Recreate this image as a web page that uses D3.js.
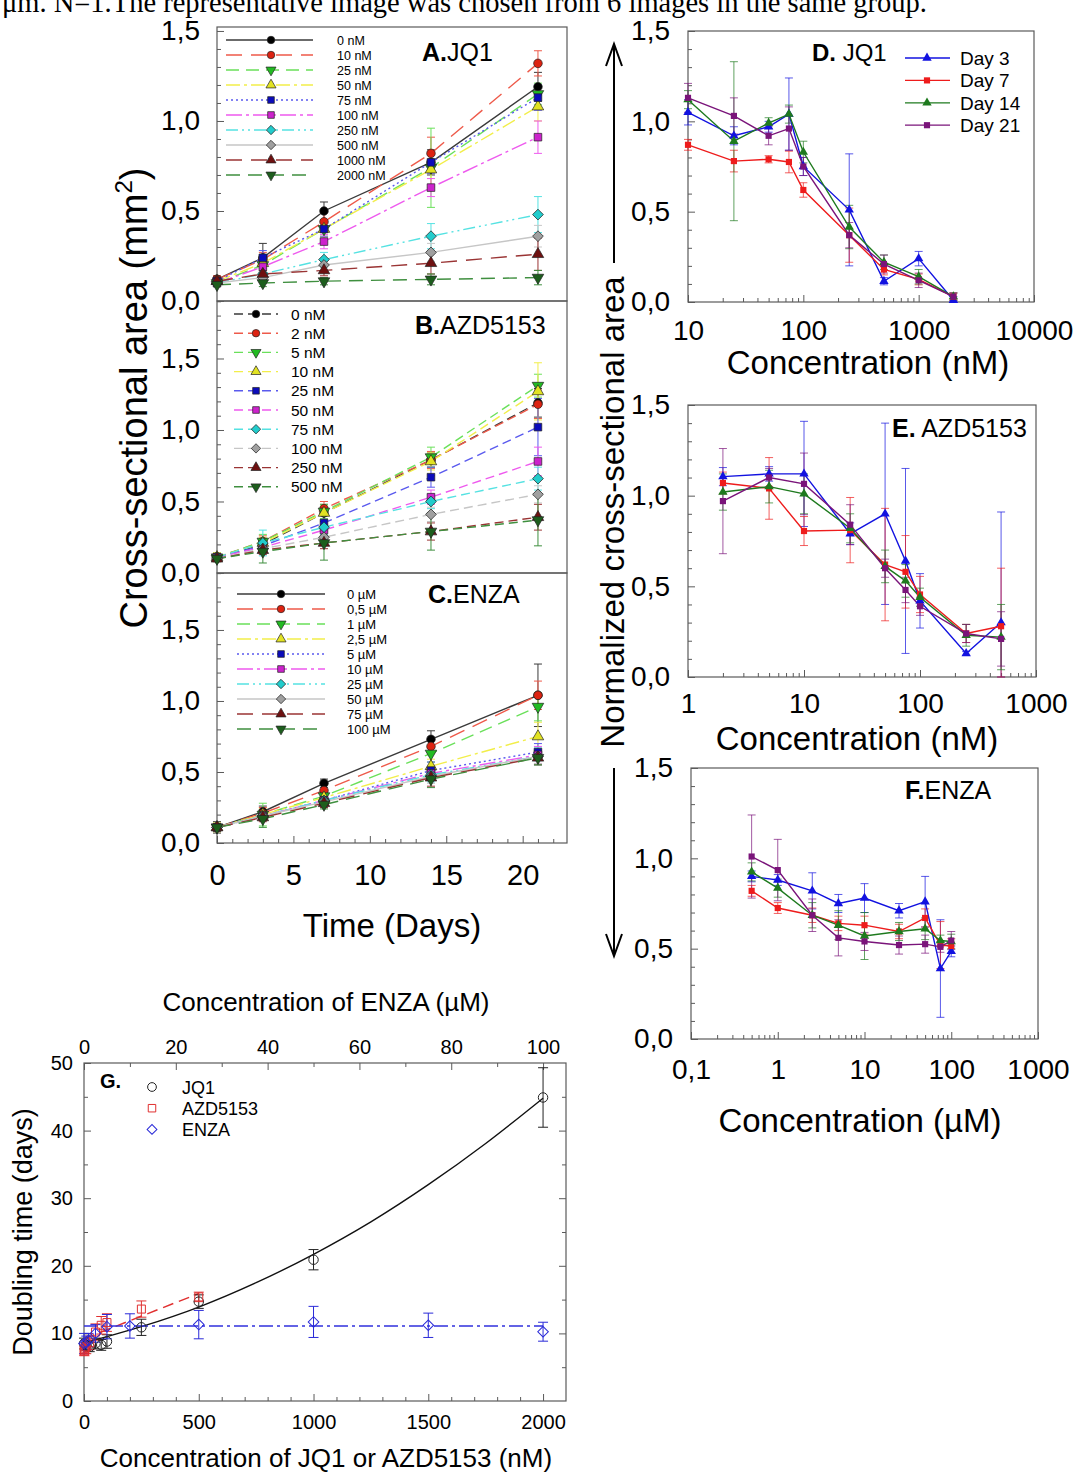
<!DOCTYPE html>
<html>
<head>
<meta charset="utf-8">
<script src="https://cdn.jsdelivr.net/npm/d3@7"></script>
<style>
  body { margin: 0; background: #fff; }
  svg { display: block; }
</style>
</head>
<body>
<svg id="fig" width="1073" height="1475"></svg>
<script>
// ---------- Growth curves (A–C): sampling days ----------
const days = [0, 3, 7, 14, 21];

// A. JQ1 – cross-sectional area (mm²) per dose
const jq1Doses = ["0 nM", "10 nM", "25 nM", "50 nM", "75 nM", "100 nM", "250 nM", "500 nM", "1000 nM", "2000 nM"];
const jq1Area = [
  [0.12, 0.24, 0.50, 0.77, 1.19],
  [0.12, 0.23, 0.44, 0.82, 1.32],
  [0.10, 0.20, 0.40, 0.74, 1.15],
  [0.11, 0.21, 0.40, 0.73, 1.08],
  [0.11, 0.24, 0.40, 0.77, 1.13],
  [0.10, 0.19, 0.33, 0.63, 0.91],
  [0.10, 0.15, 0.23, 0.36, 0.48],
  [0.10, 0.13, 0.20, 0.27, 0.36],
  [0.11, 0.15, 0.17, 0.21, 0.26],
  [0.09, 0.10, 0.11, 0.12, 0.13]
];
const jq1Err = [
  [0.02, 0.08, 0.05, 0.07, 0.08],
  [0.02, 0.04, 0.05, 0.09, 0.07],
  [0.02, 0.04, 0.05, 0.22, 0.06],
  [0.02, 0.03, 0.04, 0.10, 0.08],
  [0.02, 0.04, 0.04, 0.06, 0.07],
  [0.02, 0.03, 0.04, 0.05, 0.09],
  [0.02, 0.03, 0.04, 0.07, 0.10],
  [0.02, 0.02, 0.03, 0.05, 0.06],
  [0.02, 0.02, 0.03, 0.06, 0.09],
  [0.01, 0.02, 0.02, 0.03, 0.04]
];

// B. AZD5153
const azdDoses = ["0 nM", "2 nM", "5 nM", "10 nM", "25 nM", "50 nM", "75 nM", "100 nM", "250 nM", "500 nM"];
const azdArea = [
  [0.11, 0.20, 0.42, 0.79, 1.19],
  [0.11, 0.22, 0.45, 0.79, 1.18],
  [0.11, 0.22, 0.43, 0.81, 1.31],
  [0.11, 0.21, 0.42, 0.78, 1.27],
  [0.11, 0.19, 0.35, 0.67, 1.02],
  [0.11, 0.18, 0.30, 0.53, 0.78],
  [0.11, 0.21, 0.32, 0.50, 0.66],
  [0.10, 0.17, 0.25, 0.41, 0.55],
  [0.10, 0.16, 0.21, 0.29, 0.39],
  [0.10, 0.15, 0.21, 0.29, 0.37]
];
const azdErr = [
  [0.03, 0.04, 0.06, 0.05, 0.10],
  [0.03, 0.04, 0.05, 0.06, 0.10],
  [0.03, 0.05, 0.05, 0.07, 0.08],
  [0.03, 0.04, 0.05, 0.06, 0.20],
  [0.02, 0.04, 0.05, 0.07, 0.20],
  [0.02, 0.03, 0.04, 0.05, 0.10],
  [0.02, 0.09, 0.05, 0.05, 0.08],
  [0.02, 0.03, 0.04, 0.05, 0.06],
  [0.02, 0.03, 0.04, 0.06, 0.09],
  [0.02, 0.08, 0.12, 0.13, 0.18]
];

// C. ENZA
const enzaDoses = ["0 µM", "0,5 µM", "1 µM", "2,5 µM", "5 µM", "10 µM", "25 µM", "50 µM", "75 µM", "100 µM"];
const enzaArea = [
  [0.11, 0.22, 0.42, 0.73, 1.04],
  [0.11, 0.21, 0.37, 0.68, 1.04],
  [0.11, 0.20, 0.33, 0.63, 0.96],
  [0.11, 0.20, 0.32, 0.54, 0.75],
  [0.11, 0.19, 0.30, 0.51, 0.64],
  [0.11, 0.19, 0.30, 0.49, 0.62],
  [0.11, 0.19, 0.30, 0.48, 0.61],
  [0.11, 0.19, 0.29, 0.47, 0.61],
  [0.11, 0.18, 0.28, 0.46, 0.60],
  [0.11, 0.17, 0.27, 0.45, 0.60]
];
const enzaErr = [
  [0.04, 0.04, 0.03, 0.06, 0.22],
  [0.03, 0.04, 0.04, 0.05, 0.10],
  [0.03, 0.08, 0.04, 0.06, 0.10],
  [0.03, 0.04, 0.04, 0.05, 0.10],
  [0.02, 0.03, 0.04, 0.06, 0.06],
  [0.02, 0.03, 0.03, 0.05, 0.06],
  [0.02, 0.03, 0.03, 0.05, 0.06],
  [0.02, 0.03, 0.03, 0.05, 0.05],
  [0.02, 0.03, 0.03, 0.06, 0.05],
  [0.02, 0.06, 0.03, 0.06, 0.05]
];

// ---------- Normalized dose–response (D–F) ----------
const dayLabels = ["Day 3", "Day 7", "Day 14", "Day 21"];

const jq1Conc = [10, 25, 50, 75, 100, 250, 500, 1000, 2000];
const jq1Norm = [
  [1.05, 0.92, 0.97, 1.04, 0.75, 0.51, 0.115, 0.24, 0.01],
  [0.87, 0.78, 0.79, 0.775, 0.62, 0.37, 0.18, 0.125, 0.03],
  [1.12, 0.89, 0.99, 1.04, 0.83, 0.415, 0.22, 0.14, 0.03],
  [1.13, 1.03, 0.92, 0.96, 0.75, 0.37, 0.21, 0.12, 0.03]
];
const jq1NormErr = [
  [0.07, 0.05, 0.03, 0.20, 0.05, 0.31, 0.02, 0.04, 0.02],
  [0.03, 0.06, 0.02, 0.06, 0.04, 0.15, 0.03, 0.03, 0.02],
  [0.05, 0.44, 0.03, 0.05, 0.06, 0.12, 0.04, 0.04, 0.02],
  [0.08, 0.10, 0.05, 0.12, 0.05, 0.07, 0.05, 0.04, 0.02]
];

const azdConc = [2, 5, 10, 25, 50, 75, 100, 250, 500];
const azdNorm = [
  [1.105, 1.12, 1.12, 0.79, 0.90, 0.64, 0.42, 0.13, 0.30],
  [1.07, 1.04, 0.805, 0.81, 0.62, 0.58, 0.455, 0.24, 0.28],
  [1.02, 1.05, 1.01, 0.82, 0.61, 0.53, 0.44, 0.23, 0.22],
  [0.97, 1.10, 1.065, 0.84, 0.60, 0.48, 0.39, 0.24, 0.21]
];
const azdNormErr = [
  [0.05, 0.04, 0.29, 0.06, 0.50, 0.51, 0.15, 0.01, 0.61],
  [0.06, 0.17, 0.08, 0.18, 0.31, 0.20, 0.10, 0.05, 0.32],
  [0.10, 0.09, 0.11, 0.08, 0.09, 0.09, 0.05, 0.06, 0.18],
  [0.29, 0.05, 0.17, 0.11, 0.05, 0.07, 0.05, 0.05, 0.15]
];

const enzaConc = [0.5, 1, 2.5, 5, 10, 25, 50, 75, 100];
const enzaNorm = [
  [0.90, 0.88, 0.82, 0.75, 0.78, 0.71, 0.76, 0.39, 0.485],
  [0.82, 0.725, 0.685, 0.64, 0.63, 0.595, 0.67, 0.52, 0.515],
  [0.925, 0.835, 0.685, 0.63, 0.57, 0.595, 0.61, 0.545, 0.54],
  [1.01, 0.935, 0.685, 0.56, 0.54, 0.52, 0.525, 0.51, 0.545]
];
const enzaNormErr = [
  [0.03, 0.03, 0.10, 0.05, 0.08, 0.04, 0.14, 0.27, 0.03],
  [0.03, 0.03, 0.04, 0.04, 0.05, 0.04, 0.05, 0.13, 0.04],
  [0.05, 0.05, 0.07, 0.08, 0.13, 0.05, 0.06, 0.03, 0.04],
  [0.23, 0.17, 0.09, 0.10, 0.05, 0.05, 0.05, 0.03, 0.05]
];

// ---------- G. Doubling time ----------
const dtJq1Conc = [0, 10, 25, 50, 75, 100, 250, 500, 1000, 2000];
const dtJq1 = [8.5, 8.2, 8.0, 8.5, 8.3, 8.8, 10.9, 14.7, 20.9, 44.9];
const dtJq1Err = [0.8, 0.7, 0.7, 0.8, 0.8, 1.0, 1.2, 1.0, 1.5, 4.4];
const dtAzdConc = [0, 2, 5, 10, 25, 50, 75, 100, 250, 500];
const dtAzd = [7.6, 7.4, 7.8, 8.0, 8.6, 10.2, 11.2, 11.6, 13.6, 15.4];
const dtAzdErr = [0.8, 0.7, 0.8, 1.0, 1.0, 1.2, 1.3, 1.3, 1.2, 0.7];
const dtEnzaConc = [0, 0.5, 1, 2.5, 5, 10, 25, 50, 75, 100];
const dtEnza = [8.5, 8.6, 9.0, 10.0, 11.0, 11.1, 11.3, 11.7, 11.2, 10.25];
const dtEnzaErr = [1.5, 1.0, 1.0, 1.3, 1.8, 1.8, 2.1, 2.3, 1.8, 1.4];
// fitted trend lines
const fitJq1Conc = [0, 250, 500, 750, 1000, 1250, 1500, 1750, 2000];
const fitJq1 = [8.6, 11.0, 13.9, 17.5, 21.7, 26.5, 32.0, 38.1, 44.8];
const fitAzdConc = [0, 500];
const fitAzd = [9.2, 15.9];
const fitEnzaConc = [0, 100];
const fitEnza = [11.1, 11.1];

// ---------- styles ----------
const FONT = '"Liberation Sans", Arial, Helvetica, sans-serif';
const lineColor = ["#3a3a3a", "#ee5a4a", "#6ae05a", "#f2ee4a", "#5a5aee", "#ee5aee", "#55e2e2", "#c6c6c6", "#9a3434", "#3f8f3f"];
const markFill  = ["#000000", "#dd2211", "#22bb22", "#e2e222", "#0b0bbb", "#cc22cc", "#22cccc", "#a0a0a0", "#6e1010", "#1d5e1d"];
const markShape = ["circle", "circle", "triDown", "triUp", "square", "square", "diamond", "diamond", "triUp", "triDown"];
const dashAC = [null, "16,9", "13,7", "14,4,3,4", "2,3", "16,4,3,4", "12,4,2,4,2,4", null, "16,9", "14,8"];
const dashB = Array(10).fill("9,5");
const dayColor = ["#1212e0", "#ee1c1c", "#1e7a1e", "#7a147a"];
const dayShape = ["triUp", "square", "triUp", "square"];
const frameColor = "#5a5a5a";

const svg = d3.select("#fig").attr("font-family", FONT);
const fmtComma = d => d3.format(".1f")(d).replace(".", ",");

function symbolPath(shape, size) {
  const t = { circle: d3.symbolCircle, triUp: d3.symbolTriangle, triDown: d3.symbolTriangle,
              square: d3.symbolSquare, diamond: d3.symbolSquare }[shape];
  return d3.symbol(t, size)();
}
function symbolRot(shape) { return shape === "triDown" ? 180 : shape === "diamond" ? 45 : 0; }
function drawMarker(g, x, y, shape, size, fill, stroke, sw) {
  g.append("path").attr("d", symbolPath(shape, size))
    .attr("transform", `translate(${x},${y}) rotate(${symbolRot(shape)})`)
    .attr("fill", fill).attr("stroke", stroke).attr("stroke-width", sw);
}
function drawErrBar(g, x, yLo, yHi, color, cap, sw) {
  g.append("line").attr("x1", x).attr("x2", x).attr("y1", yLo).attr("y2", yHi)
    .attr("stroke", color).attr("stroke-width", sw);
  [yLo, yHi].forEach(yy => g.append("line").attr("x1", x - cap).attr("x2", x + cap)
    .attr("y1", yy).attr("y2", yy).attr("stroke", color).attr("stroke-width", sw));
}
function styleAxis(sel, fs) {
  sel.attr("font-family", FONT).attr("font-size", fs);
  sel.select(".domain").remove();
  sel.selectAll("line").attr("stroke", frameColor).attr("stroke-width", 1);
  sel.selectAll("text").attr("fill", "#000");
}
function frame(x0, x1, yTop, yBot) {
  svg.append("rect").attr("x", x0).attr("y", yTop).attr("width", x1 - x0).attr("height", yBot - yTop)
    .attr("fill", "none").attr("stroke", frameColor).attr("stroke-width", 1.2);
}
function logMinors(lo, hi) {
  const out = [];
  for (let p = Math.round(Math.log10(lo)); p < Math.round(Math.log10(hi)); p++) {
    for (let k = 2; k <= 9; k++) out.push(+(k * Math.pow(10, p)).toPrecision(3));
  }
  return out;
}
function panelLabel(x, y, bold, rest, fs) {
  const t = svg.append("text").attr("x", x).attr("y", y).attr("font-size", fs);
  t.append("tspan").attr("font-weight", "bold").text(bold);
  t.append("tspan").text(rest);
}

// ---------- caption fragment at top ----------
svg.append("text").attr("x", 2).attr("y", 12)
  .attr("font-family", '"Liberation Serif", "Times New Roman", serif').attr("font-size", 28.5)
  .text("μm. N=1.The representative image was chosen from 6 images in the same group.");

// ---------- panels A–C ----------
const xDay = d3.scaleLinear().domain([0, 22.9]).range([217, 567]);

function growthPanel(cfg) {
  const y = d3.scaleLinear().domain([0, cfg.ymax]).range([cfg.yBot, cfg.yTop]);
  frame(217, 567, cfg.yTop, cfg.yBot);
  const minorY = d3.range(1, Math.floor(cfg.ymax * 10 + 1e-6) + 1).map(d => d / 10).filter(d => Math.abs(d * 2 - Math.round(d * 2)) > 1e-6);
  svg.append("g").attr("transform", "translate(217,0)")
    .call(d3.axisLeft(y).tickValues(minorY).tickSize(-4).tickFormat(""))
    .call(s => styleAxis(s, 10));
  svg.append("g").attr("transform", "translate(217,0)")
    .call(d3.axisLeft(y).tickValues([0, 0.5, 1.0, 1.5]).tickSize(-7).tickPadding(17).tickFormat(fmtComma))
    .call(s => styleAxis(s, 28));

  const g = svg.append("g");
  const line = d3.line().x(d => xDay(d[0])).y(d => y(d[1]));
  cfg.values.forEach((vals, i) => {
    vals.forEach((v, j) => drawErrBar(g, xDay(days[j]), y(v - cfg.errs[i][j]), y(v + cfg.errs[i][j]), lineColor[i], 4, 1));
  });
  cfg.values.forEach((vals, i) => {
    g.append("path").attr("d", line(vals.map((v, j) => [days[j], v])))
      .attr("fill", "none").attr("stroke", lineColor[i]).attr("stroke-width", 1.4)
      .attr("stroke-dasharray", cfg.dash[i]);
  });
  cfg.values.forEach((vals, i) => {
    vals.forEach((v, j) => drawMarker(g, xDay(days[j]), y(v), markShape[i], 58, markFill[i], "#222", 0.7));
  });

  // legend
  const L = cfg.legend;
  cfg.labels.forEach((lab, i) => {
    const yy = L.y0 + i * L.dy;
    g.append("line").attr("x1", L.x0).attr("x2", L.x1).attr("y1", yy).attr("y2", yy)
      .attr("stroke", lineColor[i]).attr("stroke-width", 1.4).attr("stroke-dasharray", cfg.dash[i]);
    drawMarker(g, L.xm, yy, markShape[i], 44, markFill[i], "#222", 0.7);
    g.append("text").attr("x", L.xt).attr("y", yy + L.fs * 0.36).attr("font-size", L.fs).text(lab);
  });
  panelLabel(cfg.lx, cfg.ly, cfg.lb, cfg.lr, 25);
  return y;
}

growthPanel({ yTop: 27, yBot: 301, ymax: 1.522, values: jq1Area, errs: jq1Err, labels: jq1Doses, dash: dashAC,
  legend: { x0: 226, x1: 313, xm: 271, xt: 337, y0: 40, dy: 15, fs: 12.5 },
  lx: 422, ly: 61, lb: "A.", lr: "JQ1" });
growthPanel({ yTop: 301, yBot: 573, ymax: 1.902, values: azdArea, errs: azdErr, labels: azdDoses, dash: dashB,
  legend: { x0: 234, x1: 278, xm: 256, xt: 291, y0: 314, dy: 19.2, fs: 15.5 },
  lx: 415, ly: 334, lb: "B.", lr: "AZD5153" });
growthPanel({ yTop: 573, yBot: 843, ymax: 1.901, values: enzaArea, errs: enzaErr, labels: enzaDoses, dash: dashAC,
  legend: { x0: 237, x1: 325, xm: 281, xt: 347, y0: 594, dy: 15, fs: 13 },
  lx: 428, ly: 603, lb: "C.", lr: "ENZA" });

svg.append("g").attr("transform", "translate(0,843)")
  .call(d3.axisBottom(xDay).tickValues(d3.range(1, 23).filter(d => d % 5)).tickSize(-4).tickFormat(""))
  .call(s => styleAxis(s, 10));
svg.append("g").attr("transform", "translate(0,843)")
  .call(d3.axisBottom(xDay).tickValues([0, 5, 10, 15, 20]).tickSize(-7).tickPadding(21).tickFormat(d3.format("d")))
  .call(s => styleAxis(s, 29));
svg.append("text").attr("x", 392).attr("y", 937).attr("text-anchor", "middle").attr("font-size", 33).text("Time (Days)");
{
  const t = svg.append("text").attr("transform", "translate(147,398) rotate(-90)")
    .attr("text-anchor", "middle").attr("font-size", 38);
  t.append("tspan").text("Cross-sectional area (mm");
  t.append("tspan").attr("font-size", 24).attr("dy", -15).text("2");
  t.append("tspan").attr("dy", 15).text(")");
}

// ---------- panels D–F ----------
function normPanel(cfg) {
  const x = d3.scaleLog().domain(cfg.dom).range([cfg.x0, cfg.x1]);
  const y = d3.scaleLinear().domain([0, 1.5]).range([cfg.yBot, cfg.yTop]);
  frame(cfg.x0, cfg.x1, cfg.yTop, cfg.yBot);
  svg.append("g").attr("transform", `translate(${cfg.x0},0)`)
    .call(d3.axisLeft(y).tickValues(d3.range(1, 15).filter(d => d % 5).map(d => d / 10)).tickSize(-4).tickFormat(""))
    .call(s => styleAxis(s, 10));
  svg.append("g").attr("transform", `translate(${cfg.x0},0)`)
    .call(d3.axisLeft(y).tickValues([0, 0.5, 1.0, 1.5]).tickSize(-7).tickPadding(18).tickFormat(fmtComma))
    .call(s => styleAxis(s, 28));
  svg.append("g").attr("transform", `translate(0,${cfg.yBot})`)
    .call(d3.axisBottom(x).tickValues(logMinors(cfg.dom[0], cfg.dom[1])).tickSize(-4).tickFormat(""))
    .call(s => styleAxis(s, 10));
  svg.append("g").attr("transform", `translate(0,${cfg.yBot})`)
    .call(d3.axisBottom(x).tickValues(cfg.majors).tickSize(-7).tickPadding(cfg.pad).tickFormat(cfg.fmt))
    .call(s => styleAxis(s, 28));
  svg.append("text").attr("x", cfg.tx).attr("y", cfg.ty).attr("text-anchor", "middle").attr("font-size", 33).text(cfg.title);

  const g = svg.append("g");
  const line = d3.line().x(d => x(d[0])).y(d => y(d[1]));
  cfg.values.forEach((vals, i) => vals.forEach((v, j) => {
    const e = cfg.errs[i][j];
    drawErrBar(g, x(cfg.conc[j]), y(Math.max(0, v - e)), y(v + e), dayColor[i], 4, 1);
  }));
  g.selectAll("line").attr("stroke-opacity", 0.7);
  cfg.values.forEach((vals, i) => {
    g.append("path").attr("d", line(vals.map((v, j) => [cfg.conc[j], v])))
      .attr("fill", "none").attr("stroke", dayColor[i]).attr("stroke-width", 1.4);
  });
  cfg.values.forEach((vals, i) => vals.forEach((v, j) =>
    drawMarker(g, x(cfg.conc[j]), y(v), dayShape[i], 38, dayColor[i], "none", 0)));
  panelLabel(cfg.lx, cfg.ly, cfg.lb, cfg.lr, cfg.lfs);
}

normPanel({ dom: [10, 10000], x0: 688, x1: 1034, yTop: 31, yBot: 302, conc: jq1Conc, values: jq1Norm, errs: jq1NormErr,
  majors: [10, 100, 1000, 10000], fmt: d3.format("d"), pad: 18,
  title: "Concentration (nM)", tx: 868, ty: 374, lx: 812, ly: 61, lb: "D.", lr: " JQ1", lfs: 24 });
normPanel({ dom: [1, 1000], x0: 688, x1: 1036, yTop: 405, yBot: 677, conc: azdConc, values: azdNorm, errs: azdNormErr,
  majors: [1, 10, 100, 1000], fmt: d3.format("d"), pad: 16,
  title: "Concentration (nM)", tx: 857, ty: 750, lx: 892, ly: 437, lb: "E.", lr: " AZD5153", lfs: 25 });
normPanel({ dom: [0.1, 1000], x0: 691, x1: 1038, yTop: 768, yBot: 1039, conc: enzaConc, values: enzaNorm, errs: enzaNormErr,
  majors: [0.1, 1, 10, 100, 1000], fmt: d => d < 1 ? String(d).replace(".", ",") : d3.format("d")(d), pad: 20,
  title: "Concentration (µM)", tx: 860, ty: 1132, lx: 905, ly: 799, lb: "F.", lr: "ENZA", lfs: 25 });

// legend for D
{
  const g = svg.append("g");
  dayLabels.forEach((lab, i) => {
    const yy = 58 + i * 22.4;
    g.append("line").attr("x1", 905).attr("x2", 950).attr("y1", yy).attr("y2", yy)
      .attr("stroke", dayColor[i]).attr("stroke-width", 1.3);
    drawMarker(g, 927, yy, dayShape[i], 38, dayColor[i], "none", 0);
    g.append("text").attr("x", 960).attr("y", yy + 7).attr("font-size", 19).text(lab);
  });
}

// shared y title with arrows
svg.append("text").attr("transform", "translate(624,512) rotate(-90)").attr("text-anchor", "middle")
  .attr("font-size", 33).text("Normalized cross-sectional area");
{
  const g = svg.append("g").attr("stroke", "#000").attr("stroke-width", 2).attr("fill", "none");
  g.append("line").attr("x1", 614).attr("x2", 614).attr("y1", 44).attr("y2", 263);
  g.append("path").attr("d", "M606,66 L614,44 L622,66");
  g.append("line").attr("x1", 614).attr("x2", 614).attr("y1", 768).attr("y2", 956);
  g.append("path").attr("d", "M606,934 L614,956 L622,934");
}

// ---------- panel G ----------
{
  const x = d3.scaleLinear().domain([0, 2100]).range([84, 566]);
  const xTop = d3.scaleLinear().domain([0, 105]).range([84, 566]);
  const y = d3.scaleLinear().domain([0, 50]).range([1401, 1063]);
  frame(84, 566, 1063, 1401);

  const minorX = d3.range(100, 2100, 100).filter(d => d % 500);
  const minorTop = d3.range(10, 105, 10).filter(d => d % 20);
  const minorY = [5, 15, 25, 35, 45];
  svg.append("g").attr("transform", "translate(0,1401)")
    .call(d3.axisBottom(x).tickValues(minorX).tickSize(-4).tickFormat("")).call(s => styleAxis(s, 10));
  svg.append("g").attr("transform", "translate(0,1401)")
    .call(d3.axisBottom(x).tickValues([0, 500, 1000, 1500, 2000]).tickSize(-7).tickPadding(14).tickFormat(d3.format("d")))
    .call(s => styleAxis(s, 20));
  svg.append("g").attr("transform", "translate(0,1063)")
    .call(d3.axisTop(xTop).tickValues(minorTop).tickSize(-4).tickFormat("")).call(s => styleAxis(s, 10));
  svg.append("g").attr("transform", "translate(0,1063)")
    .call(d3.axisTop(xTop).tickValues([0, 20, 40, 60, 80, 100]).tickSize(-7).tickPadding(9).tickFormat(d3.format("d")))
    .call(s => styleAxis(s, 20));
  svg.append("g").attr("transform", "translate(84,0)")
    .call(d3.axisLeft(y).tickValues(minorY).tickSize(-4).tickFormat("")).call(s => styleAxis(s, 10));
  svg.append("g").attr("transform", "translate(84,0)")
    .call(d3.axisLeft(y).tickValues([0, 10, 20, 30, 40, 50]).tickSize(-7).tickPadding(11).tickFormat(d3.format("d")))
    .call(s => styleAxis(s, 20));
  svg.append("g").attr("transform", "translate(566,0)")
    .call(d3.axisRight(y).tickValues(minorY).tickSize(-4).tickFormat("")).call(s => styleAxis(s, 10));
  svg.append("g").attr("transform", "translate(566,0)")
    .call(d3.axisRight(y).tickValues([10, 20, 30, 40]).tickSize(-7).tickFormat("")).call(s => styleAxis(s, 10));

  svg.append("text").attr("x", 326).attr("y", 1011).attr("text-anchor", "middle").attr("font-size", 26)
    .text("Concentration of ENZA (µM)");
  svg.append("text").attr("x", 326).attr("y", 1467).attr("text-anchor", "middle").attr("font-size", 26)
    .text("Concentration of JQ1 or AZD5153 (nM)");
  svg.append("text").attr("transform", "translate(32,1232) rotate(-90)").attr("text-anchor", "middle")
    .attr("font-size", 27).text("Doubling time (days)");

  const g = svg.append("g");
  // fitted lines
  g.append("path").attr("d", d3.line().curve(d3.curveMonotoneX).x(d => x(d[0])).y(d => y(d[1]))(fitJq1Conc.map((c, i) => [c, fitJq1[i]])))
    .attr("fill", "none").attr("stroke", "#111").attr("stroke-width", 1.4);
  g.append("path").attr("d", d3.line().x(d => x(d[0])).y(d => y(d[1]))(fitAzdConc.map((c, i) => [c, fitAzd[i]])))
    .attr("fill", "none").attr("stroke", "#e03030").attr("stroke-width", 1.5).attr("stroke-dasharray", "11,6");
  g.append("path").attr("d", d3.line().x(d => xTop(d[0])).y(d => y(d[1]))(fitEnzaConc.map((c, i) => [c, fitEnza[i]])))
    .attr("fill", "none").attr("stroke", "#3030dd").attr("stroke-width", 1.5).attr("stroke-dasharray", "14,4,3,4");

  dtJq1Conc.forEach((c, i) => drawErrBar(g, x(c), y(dtJq1[i] - dtJq1Err[i]), y(dtJq1[i] + dtJq1Err[i]), "#222", 5, 1));
  dtAzdConc.forEach((c, i) => drawErrBar(g, x(c), y(dtAzd[i] - dtAzdErr[i]), y(dtAzd[i] + dtAzdErr[i]), "#e03030", 5, 1));
  dtEnzaConc.forEach((c, i) => drawErrBar(g, xTop(c), y(dtEnza[i] - dtEnzaErr[i]), y(dtEnza[i] + dtEnzaErr[i]), "#2a2ad8", 5, 1));
  dtJq1Conc.forEach((c, i) => drawMarker(g, x(c), y(dtJq1[i]), "circle", 70, "none", "#222", 1));
  dtAzdConc.forEach((c, i) => drawMarker(g, x(c), y(dtAzd[i]), "square", 64, "none", "#e03030", 1));
  dtEnzaConc.forEach((c, i) => drawMarker(g, xTop(c), y(dtEnza[i]), "diamond", 56, "none", "#2a2ad8", 1));

  // legend
  svg.append("text").attr("x", 100).attr("y", 1088).attr("font-size", 20).attr("font-weight", "bold").text("G.");
  const leg = [["JQ1", "circle", "#222", 60], ["AZD5153", "square", "#e03030", 56], ["ENZA", "diamond", "#2a2ad8", 48]];
  leg.forEach((d, i) => {
    const yy = 1087 + i * 21.2;
    drawMarker(g, 152, yy, d[1], d[3], "none", d[2], 1);
    g.append("text").attr("x", 182).attr("y", yy + 6.5).attr("font-size", 18).text(d[0]);
  });
}
</script>
</body>
</html>
